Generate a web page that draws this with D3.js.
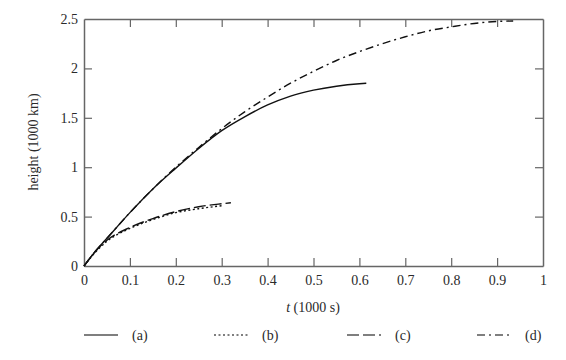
<!DOCTYPE html>
<html><head><meta charset="utf-8">
<script src="https://cdn.jsdelivr.net/npm/d3@7"></script>
<style>body{margin:0;background:#fff}svg{display:block}text{font-family:"Liberation Serif","DejaVu Serif",serif;fill:#2a2a2a}</style>
</head><body><svg id="c" width="566" height="360"></svg>
<script>
const xTicks = [0,0.1,0.2,0.3,0.4,0.5,0.6,0.7,0.8,0.9,1];
const yTicks = [0,0.5,1,1.5,2,2.5];
const tA = [0,0.025,0.05,0.1,0.15,0.2,0.25,0.3,0.35,0.4,0.45,0.5,0.55,0.6,0.615];
const hA = [0,0.15,0.28,0.54,0.78,0.99,1.19,1.37,1.51,1.63,1.72,1.78,1.82,1.845,1.85];
const tB = [0,0.025,0.05,0.1,0.15,0.2,0.25,0.3];
const hB = [0,0.14,0.25,0.38,0.47,0.54,0.58,0.61];
const tC = [0,0.025,0.05,0.1,0.15,0.2,0.25,0.3,0.32];
const hC = [0,0.15,0.26,0.39,0.48,0.55,0.6,0.63,0.64];
const tD = [0,0.025,0.05,0.1,0.15,0.2,0.25,0.3,0.35,0.4,0.45,0.5,0.55,0.6,0.65,0.7,0.75,0.8,0.85,0.9,0.935];
const hD = [0,0.15,0.28,0.54,0.78,1.0,1.2,1.39,1.56,1.71,1.85,1.97,2.08,2.17,2.25,2.32,2.38,2.42,2.455,2.475,2.48];
const seriesNames = ["(a)","(b)","(c)","(d)"];

const svg = d3.select("#c");
const L=84, R=543, T=19, B=266;
const x = d3.scaleLinear().domain([0,1]).range([L,R]);
const y = d3.scaleLinear().domain([0,2.5]).range([B,T]);
const axisCol="#666";
const tl=8;
// axes
const gB = svg.append("g").attr("transform",`translate(0,${B})`).call(d3.axisBottom(x).tickValues(xTicks).tickFormat(d3.format("")).tickSizeInner(-tl).tickSizeOuter(0).tickPadding(6));
const gT = svg.append("g").attr("transform",`translate(0,${T})`).call(d3.axisTop(x).tickValues(xTicks).tickFormat("").tickSizeInner(-tl).tickSizeOuter(0));
const gL = svg.append("g").attr("transform",`translate(${L},0)`).call(d3.axisLeft(y).tickValues(yTicks).tickFormat(d3.format("")).tickSizeInner(-tl).tickSizeOuter(0).tickPadding(6));
const gR = svg.append("g").attr("transform",`translate(${R},0)`).call(d3.axisRight(y).tickValues(yTicks).tickFormat("").tickSizeInner(-tl).tickSizeOuter(0));
[gB,gT,gL,gR].forEach(g=>{
  g.select(".domain").attr("stroke",axisCol).attr("stroke-width",1.5);
  g.selectAll(".tick line").attr("stroke",axisCol).attr("stroke-width",1.2);
  g.selectAll("text").attr("font-size",14).attr("font-family","Liberation Serif, serif").attr("fill","#2a2a2a");
});
// hide end ticks overlapping the frame
gB.selectAll(".tick").filter(d=>d===0||d===1).select("line").remove();
gT.selectAll(".tick").filter(d=>d===0||d===1).select("line").remove();
gL.selectAll(".tick").filter(d=>d===0||d===2.5).select("line").remove();
gR.selectAll(".tick").filter(d=>d===0||d===2.5).select("line").remove();
gB.selectAll("text").attr("dy","0.9em");

const styles = ["none","2,2.5","12,4","8,4,2,4"];
const data = [[tA,hA],[tB,hB],[tC,hC],[tD,hD]];
const line = d3.line().x(d=>x(d[0])).y(d=>y(d[1])).curve(d3.curveMonotoneX);
data.forEach((s,i)=>{
  const pts = s[0].map((t,j)=>[t,s[1][j]]);
  svg.append("path").attr("d",line(pts)).attr("fill","none").attr("stroke","#111")
    .attr("stroke-width",1.4).attr("stroke-dasharray",styles[i]==="none"?null:styles[i]);
});
// axis titles
const xt = svg.append("text").attr("x",313).attr("y",312).attr("text-anchor","middle").attr("font-size",14);
xt.append("tspan").attr("font-style","italic").text("t");
xt.append("tspan").text(" (1000 s)");
svg.append("text").attr("transform","translate(38,142) rotate(-90)").attr("text-anchor","middle").attr("font-size",14).text("height (1000 km)");
// legend
const lx=[84,214,347,477];
seriesNames.forEach((n,i)=>{
  svg.append("line").attr("x1",lx[i]).attr("x2",lx[i]+34).attr("y1",335).attr("y2",335)
    .attr("stroke","#555").attr("stroke-width",1.4).attr("stroke-dasharray",styles[i]==="none"?null:styles[i]);
  svg.append("text").attr("x",lx[i]+48).attr("y",340).attr("font-size",14).text(n);
});
</script></body></html>
